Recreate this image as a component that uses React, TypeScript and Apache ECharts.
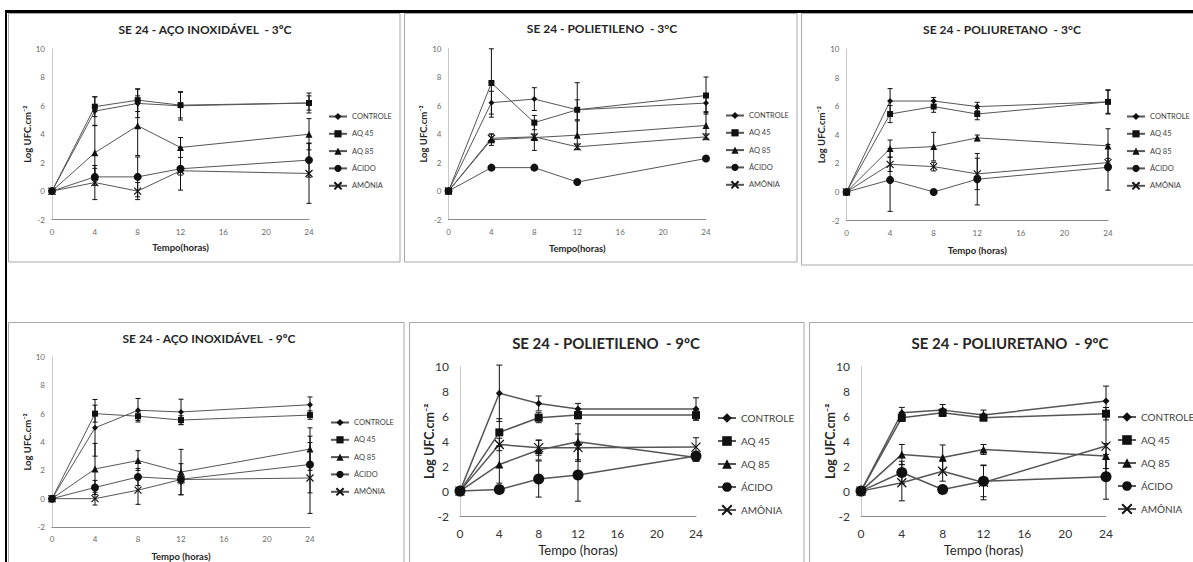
import React, { useEffect, useRef } from 'react';
import * as echarts from 'echarts';

// ---------- data ----------
const HOURS = [0, 4, 8, 12, 24];
const NAMES = ['CONTROLE', 'AQ 45', 'AQ 85', 'ÁCIDO', 'AMÔNIA'];

// rows follow NAMES order, columns follow HOURS
const aco3Mean = [
  [0, 5.63, 6.17, 6.0, 6.2],
  [0, 5.94, 6.4, 6.05, 6.2],
  [0, 2.7, 4.6, 3.07, 4.0],
  [0, 1.0, 1.0, 1.57, 2.18],
  [0, 0.6, 0, 1.43, 1.24],
];
const aco3Err = [
  [0, 1.0, 1.0, 1.0, 0.7],
  [0, 0.7, 0.8, 0.9, 0.5],
  [0, 1.9, 2.1, 0.7, 1.1],
  [0, 0.6, 1.4, 1.5, 1.2],
  [0, 1.2, 0.6, 0.3, 2.1],
];
const poli3Mean = [
  [0, 6.2, 6.45, 5.7, 6.17],
  [0, 7.58, 4.8, 5.7, 6.7],
  [0, 3.6, 3.75, 3.92, 4.6],
  [0, 1.64, 1.64, 0.63, 2.28],
  [0, 3.7, 3.8, 3.1, 3.8],
];
const poli3Err = [
  [0, 0.8, 0.8, 0.7, 0.6],
  [0, 2.4, 0.5, 1.9, 1.3],
  [0, 0.4, 0.9, 1.0, 0.9],
  [0, 0, 0, 0, 0],
  [0, 0.3, 0.2, 0.2, 0.2],
];
const pu3Mean = [
  [0, 6.36, 6.36, 5.97, 6.3],
  [0, 5.45, 5.97, 5.45, 6.3],
  [0, 3.03, 3.17, 3.78, 3.22],
  [0, 0.84, 0, 0.89, 1.72],
  [0, 1.93, 1.77, 1.26, 2.05],
];
const pu3Err = [
  [0, 0.87, 0.25, 0.3, 0.85],
  [0, 0.6, 0.4, 0.4, 0.8],
  [0, 0.6, 1.0, 0.2, 1.2],
  [0, 2.2, 0, 1.8, 1.6],
  [0, 0.5, 0.3, 1.1, 0.3],
];
const aco9Mean = [
  [0, 5.0, 6.24, 6.12, 6.63],
  [0, 6.0, 5.82, 5.55, 5.9],
  [0, 2.1, 2.69, 1.88, 3.5],
  [0, 0.79, 1.53, 1.37, 2.41],
  [0, 0, 0.6, 1.35, 1.46],
];
const aco9Err = [
  [0, 2.0, 0.83, 0.9, 0.55],
  [0, 0.6, 0.3, 0.3, 0.3],
  [0, 1.8, 0.7, 1.6, 1.5],
  [0, 0.5, 0.6, 1.1, 2.0],
  [0, 0.45, 1.0, 0.3, 2.5],
];
const poli9Mean = [
  [0, 7.86, 7.05, 6.6, 6.6],
  [0, 4.72, 5.9, 6.11, 6.11],
  [0, 2.14, 3.3, 3.97, 2.7],
  [0, 0.13, 0.97, 1.29, 2.82],
  [0, 3.75, 3.49, 3.49, 3.54],
];
const poli9Err = [
  [0, 2.27, 0.6, 0.45, 0.9],
  [0, 1.1, 0.4, 0.3, 0.4],
  [0, 1.5, 0.8, 1.45, 0.3],
  [0, 0, 1.45, 2.1, 0.3],
  [0, 0.5, 0.6, 1.1, 0.75],
];
const pu9Mean = [
  [0, 6.3, 6.51, 6.11, 7.24],
  [0, 5.9, 6.3, 5.9, 6.22],
  [0, 2.95, 2.71, 3.35, 2.82],
  [0, 1.5, 0.13, 0.8, 1.15],
  [0, 0.67, 1.6, 0.7, 3.62],
];
const pu9Err = [
  [0, 0.43, 0.45, 0.4, 1.2],
  [0, 0.3, 0.3, 0.2, 0.5],
  [0, 0.8, 1.0, 0.4, 1.0],
  [0, 0.9, 0, 1.25, 1.8],
  [0, 1.45, 0.8, 1.4, 2.5],
];

const TITLES = [
  'SE 24 - AÇO INOXIDÁVEL  - 3ºC',
  'SE 24 - POLIETILENO  - 3°C',
  'SE 24 - POLIURETANO  - 3°C',
  'SE 24 - AÇO INOXIDÁVEL  - 9ºC',
  'SE 24 - POLIETILENO  - 9ºC',
  'SE 24 - POLIURETANO  - 9ºC',
];
const X_NAMES = ['Tempo(horas)', 'Tempo(horas)', 'Tempo (horas)', 'Tempo (horas)', 'Tempo (horas)', 'Tempo (horas)'];
const Y_NAME = 'Log UFC.cm⁻²';
const MEANS = [aco3Mean, poli3Mean, pu3Mean, aco9Mean, poli9Mean, pu9Mean];
const ERRS = [aco3Err, poli3Err, pu3Err, aco9Err, poli9Err, pu9Err];

// ---------- layout / style ----------
const FONT = 'Lato, "Liberation Sans", sans-serif';
const LAYOUT = [
  { box: [8.5, 13.5, 391.5, 248.5], grid: [52, 49, 257, 170.5], title: [205, 23], legend: [328, 112], xGap: 23, big: false },
  { box: [404.5, 13.5, 392.5, 248.5], grid: [448.5, 48.5, 257.5, 171], title: [602, 22.5], legend: [725, 111], xGap: 24, big: false },
  { box: [801.5, 13.5, 400, 251.5], grid: [846.5, 49, 261.5, 171.5], title: [1002, 23], legend: [1126, 112], xGap: 25, big: false },
  { box: [8.5, 322.5, 395.5, 250], grid: [52, 357, 258, 172], title: [209, 332], legend: [330, 418], xGap: 24, big: false },
  { box: [409.5, 322.5, 394.5, 250], grid: [460, 366.7, 236, 149.3], title: [606, 335], legend: [717, 412], xGap: 27, big: true },
  { box: [809.5, 322.5, 400, 250], grid: [861, 366.7, 245, 149.3], title: [1010, 335], legend: [1117, 411], xGap: 27, big: true },
];
const SMALL = { title: 12, tick: 8, tickColor: '#6a6a6a', xName: 9.5, yName: 9.5, yGap: 20, legendFont: 7.5, itemH: 9, itemGap: 8.3, itemW: 18, lw: 1, sym: [6, 6, 7, 8, 7], xMargin: 8, yMargin: 7, cap: 2.5 };
const BIG = { title: 15, tick: 12, tickColor: '#333333', xName: 13, yName: 12.5, yGap: 24.5, legendFont: 10, itemH: 12, itemGap: 11, itemW: 18, lw: 1.5, sym: [7, 8, 8, 11, 9], xMargin: 11, yMargin: 11, cap: 3 };
const SYMBOLS = ['diamond', 'rect', 'triangle', 'circle', 'path://M0,0L10,10M0,10L10,0'];

function buildOption() {
  const option: any = {
    animation: false,
    backgroundColor: '#ffffff',
    title: [], grid: [], xAxis: [], yAxis: [], legend: [], series: [], graphic: [],
  };
  // black frame
  option.graphic.push({ type: 'rect', shape: { x: 5, y: 10, width: 1190, height: 3 }, style: { fill: '#000' }, silent: true });
  option.graphic.push({ type: 'rect', shape: { x: 5, y: 10, width: 2, height: 560 }, style: { fill: '#000' }, silent: true });

  LAYOUT.forEach((L, i) => {
    const S = L.big ? BIG : SMALL;
    option.graphic.push({
      type: 'rect', shape: { x: L.box[0], y: L.box[1], width: L.box[2], height: L.box[3] },
      style: { fill: 'none', stroke: '#a8a8a8', lineWidth: 1 }, silent: true, z: -1,
    });
    option.grid.push({ left: L.grid[0], top: L.grid[1], width: L.grid[2], height: L.grid[3] });
    option.title.push({
      text: TITLES[i], left: L.title[0], top: L.title[1], textAlign: 'center', padding: 0,
      textStyle: { fontFamily: FONT, fontSize: S.title, fontWeight: 'bold', color: '#262626' },
    });
    option.xAxis.push({
      gridIndex: i, type: 'value', min: 0, max: 24, interval: 4,
      axisLine: { show: true, onZero: false, lineStyle: { color: '#8c8c8c', width: 1 } },
      axisTick: { show: false }, splitLine: { show: false },
      axisLabel: { fontFamily: FONT, fontSize: S.tick, color: S.tickColor, margin: S.xMargin },
      name: X_NAMES[i], nameLocation: 'middle', nameGap: L.xGap,
      nameTextStyle: { fontFamily: FONT, fontSize: S.xName, fontWeight: L.big ? 'normal' : 'bold', color: '#262626' },
    });
    option.yAxis.push({
      gridIndex: i, type: 'value', min: -2, max: 10, interval: 2,
      axisLine: { show: true, onZero: false, lineStyle: { color: '#c8c8c8', width: 1 } },
      axisTick: { show: false }, splitLine: { show: false },
      axisLabel: { fontFamily: FONT, fontSize: S.tick, color: S.tickColor, margin: S.yMargin },
      name: Y_NAME, nameLocation: 'middle', nameRotate: 90, nameGap: S.yGap, nameMoveOverlap: false,
      nameTextStyle: { fontFamily: FONT, fontSize: S.yName, fontWeight: 'bold', color: '#262626' },
    });
    option.legend.push({
      data: NAMES, orient: 'vertical', left: L.legend[0], top: L.legend[1], padding: 0,
      itemWidth: S.itemW, itemHeight: S.itemH, itemGap: S.itemGap, selectedMode: false,
      textStyle: { fontFamily: FONT, fontSize: S.legendFont, color: '#404040', lineHeight: S.itemH },
    });
    const errData: number[][] = [];
    NAMES.forEach((name, k) => {
      option.series.push({
        type: 'line', name, xAxisIndex: i, yAxisIndex: i,
        data: HOURS.map((h, j) => [h, MEANS[i][k][j]]),
        symbol: SYMBOLS[k], symbolSize: S.sym[k],
        lineStyle: { color: '#555555', width: S.lw },
        itemStyle: { color: '#111', borderColor: '#111', borderWidth: k === 4 ? 1.2 : 0 },
        z: 3,
      });
      HOURS.forEach((h, j) => {
        const e = ERRS[i][k][j];
        if (e > 0) errData.push([h, MEANS[i][k][j], e]);
      });
    });
    const cap = S.cap;
    option.series.push({
      type: 'custom', xAxisIndex: i, yAxisIndex: i, data: errData, silent: true, z: 4,
      encode: { x: 0, y: 1 },
      renderItem: (params: any, api: any) => {
        const x = api.value(0), y = api.value(1), e = api.value(2);
        const top = api.coord([x, y + e]);
        const bot = api.coord([x, y - e]);
        const style = { stroke: '#111', lineWidth: 1 };
        return {
          type: 'group',
          children: [
            { type: 'line', shape: { x1: top[0], y1: top[1], x2: bot[0], y2: bot[1] }, style },
            { type: 'line', shape: { x1: top[0] - cap, y1: top[1], x2: top[0] + cap, y2: top[1] }, style },
            { type: 'line', shape: { x1: bot[0] - cap, y1: bot[1], x2: bot[0] + cap, y2: bot[1] }, style },
          ],
        };
      },
    });
  });
  return option;
}

export default function App() {
  const ref = useRef<HTMLDivElement>(null);
  useEffect(() => {
    if (!ref.current) return;
    const chart = echarts.init(ref.current, undefined, { renderer: 'svg' });
    chart.setOption(buildOption());
    return () => chart.dispose();
  }, []);
  return (
    <div
      ref={ref}
      style={{ position: 'fixed', left: 0, top: 0, width: 1193, height: 562, background: '#fff' }}
    />
  );
}
